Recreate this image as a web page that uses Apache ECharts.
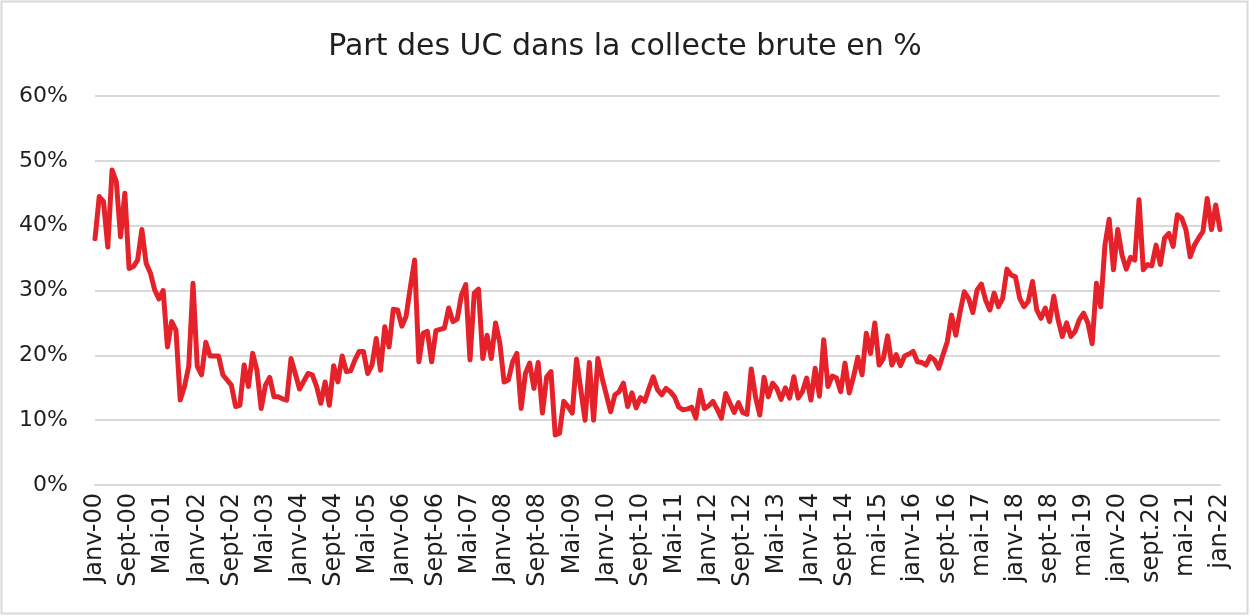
<!DOCTYPE html>
<html>
<head>
<meta charset="utf-8">
<title>Part des UC dans la collecte brute en %</title>
<script src="https://cdn.jsdelivr.net/npm/echarts/dist/echarts.min.js"></script>
<style>
  html, body { margin: 0; padding: 0; background: #fff; }
  #chart { width: 1250px; height: 616px; }
</style>
</head>
<body>
<div id="chart"></div>
<script>
// monthly data, janv 2000 -> janv 2022 (265 months)
const monthNames = ['janv', 'févr', 'mars', 'avr', 'mai', 'juin', 'juil', 'août', 'sept', 'oct', 'nov', 'déc']
const firstYear = 2000
const nbMonths = 265

// labels shown on the axis, one every 8 months
const tickLabels = [
  'Janv-00', 'Sept-00', 'Mai-01', 'Janv-02', 'Sept-02', 'Mai-03', 'Janv-04', 'Sept-04',
  'Mai-05', 'Janv-06', 'Sept-06', 'Mai-07', 'Janv-08', 'Sept-08', 'Mai-09', 'Janv-10',
  'Sept-10', 'Mai-11', 'Janv-12', 'Sept-12', 'Mai-13', 'Janv-14', 'Sept-14', 'mai-15',
  'janv-16', 'sept-16', 'mai-17', 'janv-18', 'sept-18', 'mai-19', 'janv-20', 'sept.20',
  'mai-21', 'jan-22'
]

const yTicks = [0, 10, 20, 30, 40, 50, 60]

// part des UC (%)
const partUC = [
  38, 44.5, 43.7, 36.7, 48.6, 46.8, 38.3, 45, 33.4, 33.7, 34.7, 39.4,
  34.2, 32.7, 30.1, 28.7, 30, 21.3, 25.2, 23.9, 13.1, 15.2, 18.3, 31.1,
  18.3, 17, 22, 19.9, 19.9, 19.9, 17, 16.2, 15.4, 12.1, 12.3, 18.5,
  15.2, 20.3, 17.7, 11.8, 15.4, 16.6, 13.6, 13.6, 13.3, 13.1, 19.5, 17.2,
  14.8, 16, 17.2, 17, 15.2, 12.6, 15.9, 12.3, 18.4, 15.9, 19.9, 17.5,
  17.6, 19.3, 20.6, 20.6, 17.2, 18.5, 22.6, 17.7, 24.4, 21.3, 27.1, 27,
  24.5, 26, 30.5, 34.7, 19, 23.4, 23.7, 19, 23.8, 24, 24.2, 27.3,
  25.2, 25.6, 29.3, 30.9, 19.3, 29.6, 30.2, 19.5, 23.1, 19.5, 25, 21.9,
  15.9, 16.2, 19, 20.3, 11.8, 17.2, 18.8, 14.9, 18.9, 11.1, 16.7, 17.5,
  7.7, 8, 12.9, 12.1, 11.1, 19.4, 14.7, 10, 18.9, 10, 19.5, 16.5,
  13.9, 11.3, 13.9, 14.4, 15.7, 12.1, 14.2, 11.9, 13.5, 12.9, 14.9, 16.7,
  14.7, 13.9, 14.9, 14.4, 13.6, 12, 11.6, 11.7, 12, 10.3, 14.6, 11.8,
  12.2, 12.9, 11.7, 10.3, 14.1, 12.6, 11.2, 12.7, 11.2, 10.9, 17.9, 13.6,
  10.8, 16.6, 13.6, 15.7, 14.9, 13.2, 15, 13.4, 16.7, 13.4, 14.4, 16.5,
  13.1, 18, 13.7, 22.4, 15.2, 16.8, 16.5, 14.4, 18.8, 14.2, 16.7, 19.7,
  17, 23.4, 20.3, 25, 18.5, 19.5, 23, 18.5, 20.1, 18.4, 19.9, 20.2,
  20.6, 19, 18.9, 18.5, 19.8, 19.3, 18, 20.1, 22.1, 26.2, 23.1, 26.7,
  29.8, 28.8, 26.6, 30.1, 31, 28.5, 27, 29.6, 27.5, 28.8, 33.3, 32.4,
  32.1, 28.8, 27.5, 28.3, 31.4, 27, 25.7, 27.3, 25.2, 29.1, 25.5, 22.9,
  25, 22.9, 23.7, 25.5, 26.5, 25, 21.8, 31.1, 27.5, 37, 41, 33.2,
  39.4, 35.5, 33.3, 35.1, 34.7, 44, 33.2, 34, 33.8, 37, 34, 38.1,
  38.8, 36.8, 41.7, 41.2, 39.4, 35.2, 37, 38.1, 39.1, 44.2, 39.4, 43.2,
  39.4
]

const categories = []
for (let i = 0; i < nbMonths; i++) {
  const y = firstYear + Math.floor(i / 12)
  categories.push(monthNames[i % 12] + '-' + String(y).slice(2))
}

const font = 'DejaVu Sans'
const myChart = echarts.init(document.getElementById('chart'))
myChart.setOption({
  animation: false,
  backgroundColor: '#fff',
  title: {
    text: 'Part des UC dans la collecte brute en %',
    left: 'center',
    top: 27,
    textStyle: {
      fontFamily: font,
      fontSize: 30,
      fontWeight: 'normal',
      color: '#1f1f1f'
    }
  },
  graphic: [
    {
      type: 'rect',
      shape: { x: 1.5, y: 1.5, width: 1246, height: 612 },
      style: { fill: 'none', stroke: '#d9d9d9', lineWidth: 2 },
      silent: true
    }
  ],
  grid: {
    left: 95,
    right: 30,
    top: 96,
    bottom: 131
  },
  xAxis: {
    type: 'category',
    boundaryGap: false,
    data: categories,
    axisLine: { show: true, lineStyle: { color: '#d9d9d9', width: 2 } },
    axisTick: { show: false },
    axisLabel: {
      interval: 7,
      rotate: 90,
      margin: 8,
      fontFamily: font,
      fontSize: 24,
      color: '#1f1f1f',
      formatter: function (value, index) {
        return tickLabels[index / 8]
      }
    }
  },
  yAxis: {
    type: 'value',
    min: yTicks[0],
    max: yTicks[yTicks.length - 1],
    interval: 10,
    axisLine: { show: false },
    axisTick: { show: false },
    splitLine: { lineStyle: { color: '#d9d9d9', width: 2 } },
    axisLabel: {
      margin: 27,
      fontFamily: font,
      fontSize: 22,
      color: '#1f1f1f',
      formatter: '{value}%'
    }
  },
  series: [
    {
      name: 'Part des UC',
      type: 'line',
      data: partUC,
      showSymbol: false,
      smooth: false,
      lineStyle: {
        color: '#e52229',
        width: 5,
        join: 'round',
        cap: 'round'
      }
    }
  ]
})
</script>
</body>
</html>
